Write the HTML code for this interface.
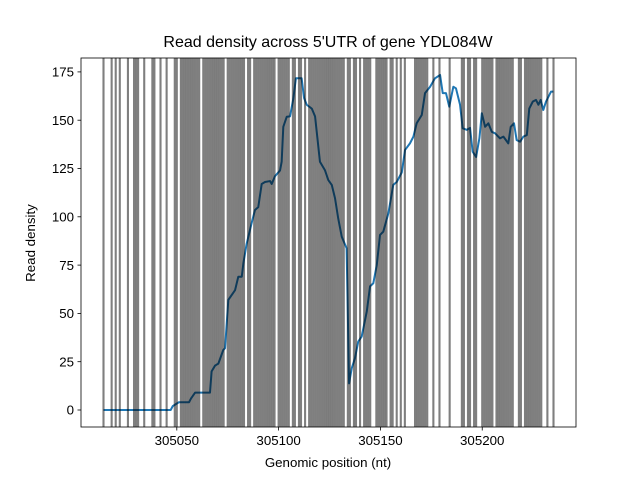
<!DOCTYPE html>
<html><head><meta charset="utf-8"><style>
body{margin:0;background:#fff}
svg{display:block;font-family:"Liberation Sans","DejaVu Sans",sans-serif}
</style></head><body>
<svg id="chart" width="640" height="480" viewBox="0 0 640 480">
<rect x="0" y="0" width="640" height="480" fill="#fff"/>
<defs><clipPath id="clip"><rect x="81" y="58" width="495" height="369"/></clipPath></defs>
<text x="328" y="47" text-anchor="middle" font-size="16">Read density across 5'UTR of gene YDL084W</text>
<g id="plot" clip-path="url(#clip)"></g>
<g id="axes"></g>
<rect x="81" y="58" width="495" height="369" fill="none" stroke="#000" stroke-width="0.8"/>
<text x="328" y="467" text-anchor="middle" font-size="13.3">Genomic position (nt)</text>
<text transform="translate(35,243) rotate(-90)" text-anchor="middle" font-size="13.3">Read density</text>
</svg>
<script>
const base = 305000;
const positions = [14,47,48,51,56,57,59,66,66.3,67.1,68.8,70.4,72.8,73.7,75.3,78.6,80.2,81.9,82.7,84.3,86.8,88.4,90,91.7,93.3,95.8,96.6,98.2,100.7,101.5,102.3,104,105.6,107.2,108.5,111.3,112.5,113.8,116.3,117.9,120.3,122.8,124.4,126.1,127.7,129.3,131,133.4,134.6,135.9,137.5,139.1,140.8,143.3,144.9,146.5,148.2,149.8,151.4,153.9,156.3,158,160.5,162.1,164.5,166.2,167.8,170.3,171.9,174.4,176.8,179.3,180.6,182.2,183.8,185.8,187.1,189.1,190.4,192.4,194,195.3,197,198.6,199.8,201.4,203,204.7,206.3,208.7,210.4,212.8,214,215.6,216.9,218.6,220.2,221.9,223.1,224.8,226.4,227.6,228.7,230,231.3,233.8,234.9];
const density = [0,0,2,4,4,6,9,9,9,20,23,24,31,32,57,62,69,69,76,86,97,103.5,105,117,118,118.5,117,121,124,128.5,146.6,151.8,152,161,171.7,171.7,161.5,158,156,152,128.5,124,119,116.5,109.6,99,89.7,83.7,13.8,21.6,26.8,35.4,38,51,64,65.6,75,90.6,92.3,101.8,116.5,118,123,134.6,138,141.5,148.4,152.7,164,167.3,171.7,173.4,164,164,157,167.3,166.5,158,145.8,145,146,133.7,131,140.6,153.6,146.6,148.4,144,143.2,140.6,141.5,138,146.6,148.4,139.7,138.9,141.5,142.3,156,159.6,160.5,158,160.5,155.3,159.6,164.8,164.8];
const markerSites = [14,18,20,22,26,29,30,31,34,38,39,42,45,49,50,
 52,53,54,55,56,57,58,59,60,61,63,64,65,66,67,68,69,70,71,72,73,75,76,77,78,79,80,81,82,83,85,86,88,89,90,91,92,93,94,95,96,97,98,100,101,102,103,104,105,107,108,110,111,113,115,116,117,118,119,120,121,122,123,124,125,126,127,128,129,130,131,132,
 134,135,137,138,140,142,143,144,145,148,149,150,151,152,153,155,156,158,160,162,167,168,169,170,171,172,173,176,179,184,190,191,193,194,196,197,200,201,202,203,204,205,207,208,209,210,211,212,213,214,215,218,219,221,222,223,224,225,226,227,228,229,232,235];
const xTicks = [305050,305100,305150,305200];
const yTicks = [0,25,50,75,100,125,150,175];

const NS = "http://www.w3.org/2000/svg";
const xMin = base + 2.95, xMax = base + 246.05, L = 81, R = 576;
function sx(v){ return L + (v - xMin) / (xMax - xMin) * (R - L); }
function sy(v){ return 410 - v * 1.932; }
const plot = document.getElementById('plot');
const axes = document.getElementById('axes');

const pts = positions.map((p,i)=> sx(base+p).toFixed(2)+','+sy(density[i]).toFixed(2)).join(' ');
const line = document.createElementNS(NS,'polyline');
line.setAttribute('points', pts);
line.setAttribute('fill','none');
line.setAttribute('stroke','#1f77b4');
line.setAttribute('stroke-width','2');
line.setAttribute('stroke-linejoin','round');


plot.appendChild(line);

markerSites.forEach(p=>{
  const v = document.createElementNS(NS,'line');
  const x = sx(base+p);
  v.setAttribute('x1',x); v.setAttribute('x2',x);
  v.setAttribute('y1',58); v.setAttribute('y2',427);
  v.setAttribute('stroke','rgba(0,0,0,0.5)');
  v.setAttribute('stroke-width','2.1');
  
  
  plot.appendChild(v);
});

xTicks.forEach(t=>{
  const x = sx(t);
  const tk = document.createElementNS(NS,'line');
  tk.setAttribute('x1',x); tk.setAttribute('x2',x); tk.setAttribute('y1',427); tk.setAttribute('y2',430.5);
  tk.setAttribute('stroke','#000'); tk.setAttribute('stroke-width','0.8');
  
  
  axes.appendChild(tk);
  const tx = document.createElementNS(NS,'text');
  tx.setAttribute('x',x); tx.setAttribute('y',445); tx.setAttribute('text-anchor','middle'); tx.setAttribute('font-size','13.3');
  tx.textContent = t;
  
  
  axes.appendChild(tx);
});
yTicks.forEach(t=>{
  const y = sy(t);
  const tk = document.createElementNS(NS,'line');
  tk.setAttribute('x1',77.5); tk.setAttribute('x2',81); tk.setAttribute('y1',y); tk.setAttribute('y2',y);
  tk.setAttribute('stroke','#000'); tk.setAttribute('stroke-width','0.8');
  
  
  axes.appendChild(tk);
  const tx = document.createElementNS(NS,'text');
  tx.setAttribute('x',74); tx.setAttribute('y',y+4.7); tx.setAttribute('text-anchor','end'); tx.setAttribute('font-size','13.3');
  tx.textContent = t;
  
  
  axes.appendChild(tx);
});
</script>
</body></html>
